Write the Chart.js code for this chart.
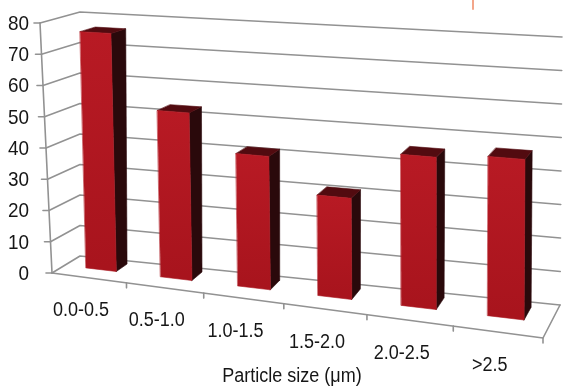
<!DOCTYPE html>
<html>
<head>
<meta charset="utf-8">
<style>
  html, body { margin: 0; padding: 0; background: #ffffff; }
  canvas { display: block; }
</style>
<script src="https://cdn.jsdelivr.net/npm/chart.js@4.4.1/dist/chart.umd.min.js"></script>
</head>
<body>
<canvas id="chart" width="572" height="386"></canvas>
<script>
// ---- data ----
const categories = ['0.0-0.5', '0.5-1.0', '1.0-1.5', '1.5-2.0', '2.0-2.5', '>2.5'];
const percentages = [76, 52.5, 41, 30.5, 45, 46.5];
const yTickValues = [0, 10, 20, 30, 40, 50, 60, 70, 80];
const xAxisTitle = 'Particle size (\u03bcm)';

// ---- 3D box frame (pixel corners relative to the chart area) ----
const BOX = {
  front: { bl: [52, 273], br: [543, 338], tl: [40, 23], tr: [545, 52] },
  back:  { bl: [80, 256], br: [560, 305], tl: [80, 12], tr: [562, 37] }
};
const PERSPECTIVE = 1.118;        // horizontal foreshortening toward the left
const BAR_FRONT = 0.45, BAR_BACK = 0.85;   // bar depth inside the box
const FONT = '"Liberation Sans", Arial, sans-serif';
const TEXT_SQUEEZE = 0.9;         // slightly condensed lettering

const lerp = (a, b, t) => [a[0] + (b[0] - a[0]) * t, a[1] + (b[1] - a[1]) * t];

// u: 0..1 across categories, v: 0..1 up the value axis, d: 0 front .. 1 back
function project(area, u, v, d) {
  const s = u / (PERSPECTIVE + (1 - PERSPECTIVE) * u);
  const f = lerp(lerp(BOX.front.bl, BOX.front.br, s), lerp(BOX.front.tl, BOX.front.tr, s), v);
  const b = lerp(lerp(BOX.back.bl, BOX.back.br, s), lerp(BOX.back.tl, BOX.back.tr, s), v);
  const p = lerp(f, b, d);
  return [area.left + p[0], area.top + p[1]];
}

function poly(ctx, pts, fill) {
  ctx.beginPath();
  ctx.moveTo(pts[0][0], pts[0][1]);
  for (let i = 1; i < pts.length; i++) ctx.lineTo(pts[i][0], pts[i][1]);
  ctx.closePath();
  ctx.fillStyle = fill;
  ctx.fill();
  ctx.strokeStyle = fill;
  ctx.lineWidth = 0.6;
  ctx.stroke();
}

function text(ctx, str, x, y) {
  ctx.save();
  ctx.translate(x, y);
  ctx.scale(TEXT_SQUEEZE, 1);
  ctx.fillText(str, 0, 0);
  ctx.restore();
}

const bar3d = {
  id: 'bar3d',
  beforeDatasetsDraw(chart) {
    const ctx = chart.ctx;
    const area = chart.chartArea;
    const W = area.right - area.left, H = area.bottom - area.top;
    const ys = chart.scales.y, xs = chart.scales.x;
    const toU = px => (px - area.left) / W;
    const toV = py => (area.bottom - py) / H;
    const P = (u, v, d) => project(area, u, v, d);

    ctx.save();
    ctx.lineCap = 'round';
    ctx.lineJoin = 'round';

    // side wall + back wall gridlines
    ctx.strokeStyle = '#929292';
    ctx.lineWidth = 1.6;
    yTickValues.forEach(val => {
      const v = toV(ys.getPixelForValue(val));
      const a = P(0, v, 0), b = P(0, v, 1), c = P(1, v, 1);
      ctx.beginPath();
      ctx.moveTo(a[0], a[1]); ctx.lineTo(b[0], b[1]); ctx.lineTo(c[0], c[1]);
      ctx.stroke();
    });

    // floor edges and value axis
    ctx.beginPath();
    let p = P(0, 0, 0); ctx.moveTo(p[0], p[1]);
    p = P(1, 0, 0); ctx.lineTo(p[0], p[1]);
    p = P(1, 0, 1); ctx.lineTo(p[0], p[1]);
    ctx.stroke();
    ctx.beginPath();
    p = P(0, 0, 0); ctx.moveTo(p[0], p[1]);
    p = P(0, 1, 0); ctx.lineTo(p[0], p[1]);
    ctx.stroke();

    // tick marks
    yTickValues.forEach(val => {
      const q = P(0, toV(ys.getPixelForValue(val)), 0);
      ctx.beginPath(); ctx.moveTo(q[0], q[1]); ctx.lineTo(q[0] - 6, q[1]); ctx.stroke();
    });
    for (let k = 1; k <= categories.length; k++) {
      const q = P(k / categories.length, 0, 0);
      ctx.beginPath(); ctx.moveTo(q[0], q[1]); ctx.lineTo(q[0], q[1] + 5); ctx.stroke();
    }

    // bars
    const meta = chart.getDatasetMeta(0);
    meta.data.forEach(el => {
      const { x, y, base, width } = el.getProps(['x', 'y', 'base', 'width'], true);
      const uL = toU(x - width / 2), uR = toU(x + width / 2);
      const v0 = toV(base), v1 = toV(y);
      const f = BAR_FRONT, b = BAR_BACK;
      // right side face
      poly(ctx, [P(uR, v0, f), P(uR, v0, b), P(uR, v1, b), P(uR, v1, f)], '#2a090b');
      // top face
      poly(ctx, [P(uL, v1, f), P(uR, v1, f), P(uR, v1, b), P(uL, v1, b)], '#520b10');
      // front face
      const ft = P(uL, v1, f), fb = P(uL, v0, f);
      const g = ctx.createLinearGradient(ft[0], ft[1], fb[0], fb[1]);
      g.addColorStop(0, '#b81a24');
      g.addColorStop(1, '#a8141d');
      poly(ctx, [P(uL, v0, f), P(uR, v0, f), P(uR, v1, f), P(uL, v1, f)], g);
    });

    // value labels
    ctx.fillStyle = '#161616';
    ctx.font = '21px ' + FONT;
    ctx.textAlign = 'right';
    ctx.textBaseline = 'middle';
    yTickValues.forEach(val => {
      const q = P(0, toV(ys.getPixelForValue(val)), 0);
      text(ctx, String(val), area.left + 29, q[1] + 1);
    });

    // category labels
    ctx.font = '20px ' + FONT;
    ctx.textAlign = 'center';
    categories.forEach((label, i) => {
      const q = P(toU(xs.getPixelForValue(i)), 0, 0);
      text(ctx, label, q[0] - 8, q[1] + 33);
    });

    // axis title
    ctx.textBaseline = 'alphabetic';
    text(ctx, xAxisTitle, area.left + 292, area.top + 382);

    // small mark at the top edge
    ctx.strokeStyle = '#f3a68a';
    ctx.lineWidth = 2;
    ctx.beginPath(); ctx.moveTo(area.left + 473, area.top); ctx.lineTo(area.left + 473, area.top + 9); ctx.stroke();

    ctx.restore();
    return false;
  }
};

new Chart(document.getElementById('chart'), {
  type: 'bar',
  data: {
    labels: categories,
    datasets: [{
      data: percentages,
      backgroundColor: '#b2171f',
      barPercentage: 0.41,
      categoryPercentage: 1.0
    }]
  },
  options: {
    responsive: false,
    animation: false,
    devicePixelRatio: 1,
    layout: { padding: 0 },
    plugins: { legend: { display: false }, tooltip: { enabled: false } },
    scales: {
      x: { display: false, offset: true },
      y: { display: false, min: 0, max: 80, ticks: { stepSize: 10 } }
    }
  },
  plugins: [bar3d]
});
</script>
</body>
</html>
